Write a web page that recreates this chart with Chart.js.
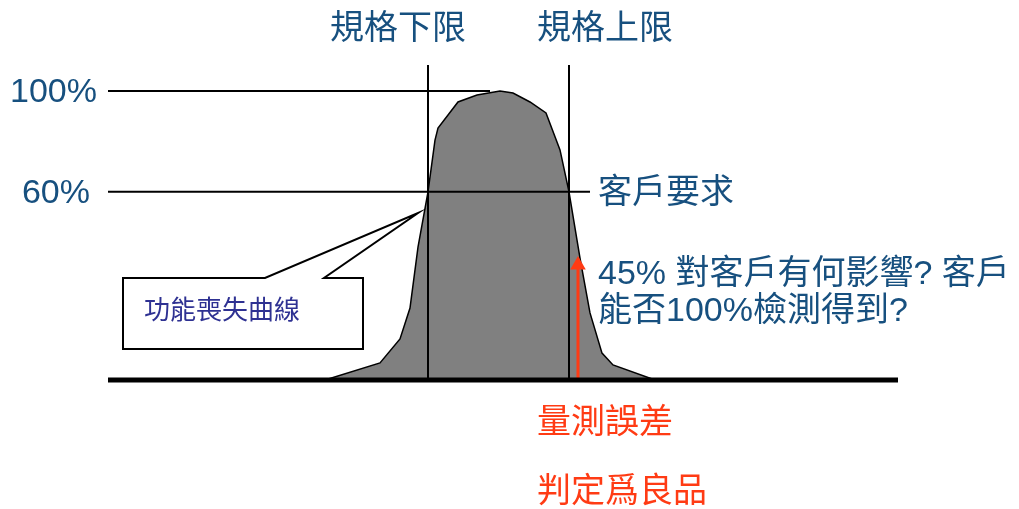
<!DOCTYPE html>
<html>
<head>
<meta charset="utf-8">
<script src="https://cdn.jsdelivr.net/npm/chart.js@4/dist/chart.umd.min.js"></script>
<style>
  html, body { margin: 0; padding: 0; background: #fff; }
  #grafico { display: block; }
</style>
</head>
<body>
<canvas id="grafico" width="1019" height="509"></canvas>
<script>
// Curva de distribución (x: valor medido, y: % de piezas)
const curvaX = [32.5, 38.0, 40.0, 41.0, 41.8, 42.8, 43.5, 43.8, 45.8, 47.7, 50.0, 51.3, 53.0, 54.6, 56.0, 56.9, 58.0, 59.0, 60.2, 61.3, 65.5];
const curvaY = [0, 5.9, 14.2, 24.9, 46.0, 65.1, 83.0, 87.2, 96.2, 98.6, 100, 99.3, 96.2, 92.4, 79.6, 65.1, 42.2, 23.2, 9.3, 5.2, 0];

// Límites de especificación
const limitesX = [42.8, 56.9];
const limitesEtiquetas = ['規格下限', '規格上限'];
const limitesAltura = 109;

// Niveles horizontales (100% y requisito del cliente)
const nivelesY = [100, 65.1];
const nivelesEtiquetas = ['100%', '60%'];
const nivelesInicioX = 10.8;
const nivelesFinX = [49.0, 59.0];

// Eje base
const ejeX = [10.8, 89.8];

// Flecha de error de medición
const errorX = 57.8;
const errorAltura = 39.8;

const textos = {
    cliente: '客戶要求',
    pregunta: ['45% 對客戶有何影響? 客戶', '能否100%檢測得到?'],
    callout: '功能喪失曲線',
    error: ['量測誤差', '判定爲良品']
};

const AZUL = '#17507f';
const ROJO = '#ff3b14';
const FUENTE = '"Liberation Sans", Arial, "Noto Sans CJK TC", sans-serif';

function segmento(x1, y1, x2, y2, ancho, orden, color = '#000') {
    return {
        data: [{ x: x1, y: y1 }, { x: x2, y: y2 }],
        borderColor: color,
        borderWidth: ancho,
        pointRadius: 0,
        fill: false,
        order: orden
    };
}

const datasets = [];

// Curva gris rellena
datasets.push({
    data: curvaX.map((x, i) => ({ x: x, y: curvaY[i] })),
    borderColor: '#000',
    borderWidth: 1.5,
    backgroundColor: '#808080',
    fill: 'origin',
    pointRadius: 0,
    tension: 0,
    order: 10
});

limitesX.forEach(x => datasets.push(segmento(x, 0, x, limitesAltura, 2, 5)));
nivelesY.forEach((y, i) => datasets.push(segmento(nivelesInicioX, y, nivelesFinX[i], y, 2, 5)));

// Flecha roja
datasets.push(segmento(errorX, 0, errorX, errorAltura, 3, 2, ROJO));
datasets.push({
    data: [{ x: errorX, y: errorAltura }],
    pointStyle: 'triangle',
    pointRadius: 9,
    pointBackgroundColor: ROJO,
    pointBorderColor: ROJO,
    pointBorderWidth: 0,
    showLine: false,
    order: 1
});

datasets.push(segmento(ejeX[0], 0, ejeX[1], 0, 5, 0));

const pluginTextos = {
    id: 'textos',
    afterDatasetsDraw(chart) {
        const ctx = chart.ctx;
        const sx = chart.scales.x;
        const sy = chart.scales.y;
        ctx.save();

        // Globo del callout
        ctx.beginPath();
        ctx.moveTo(123, 278);
        ctx.lineTo(265, 278);
        ctx.lineTo(418, 213);
        ctx.lineTo(324, 278);
        ctx.lineTo(363, 278);
        ctx.lineTo(363, 349);
        ctx.lineTo(123, 349);
        ctx.closePath();
        ctx.fillStyle = '#fff';
        ctx.fill();
        ctx.lineWidth = 2;
        ctx.strokeStyle = '#000';
        ctx.stroke();

        ctx.textBaseline = 'middle';
        ctx.fillStyle = '#2e3192';
        ctx.font = '26px ' + FUENTE;
        ctx.fillText(textos.callout, 144, 312);

        ctx.fillStyle = AZUL;
        ctx.font = '34px ' + FUENTE;

        // Niveles a la izquierda
        ctx.textAlign = 'right';
        ctx.fillText(nivelesEtiquetas[0], 97, sy.getPixelForValue(nivelesY[0]) + 2);
        ctx.fillText(nivelesEtiquetas[1], 90, sy.getPixelForValue(nivelesY[1]) + 2);

        ctx.textAlign = 'left';
        ctx.fillText(limitesEtiquetas[0], sx.getPixelForValue(limitesX[0]) - 98, 30);
        ctx.fillText(limitesEtiquetas[1], sx.getPixelForValue(limitesX[1]) - 32, 30);

        ctx.fillText(textos.cliente, 598, 194);
        ctx.fillText(textos.pregunta[0], 598, 275);
        ctx.fillText(textos.pregunta[1], 598, 312);

        ctx.fillStyle = ROJO;
        ctx.fillText(textos.error[0], 537, 424);
        ctx.fillText(textos.error[1], 537, 493);

        ctx.restore();
    }
};

new Chart(document.getElementById('grafico'), {
    type: 'line',
    data: { datasets: datasets },
    options: {
        responsive: false,
        animation: false,
        layout: { padding: 0, autoPadding: false },
        plugins: {
            legend: { display: false },
            tooltip: { enabled: false }
        },
        scales: {
            x: { type: 'linear', min: 0, max: 101.9, display: false },
            y: { type: 'linear', min: -44.64, max: 131.49, display: false }
        }
    },
    plugins: [pluginTextos]
});
</script>
</body>
</html>
